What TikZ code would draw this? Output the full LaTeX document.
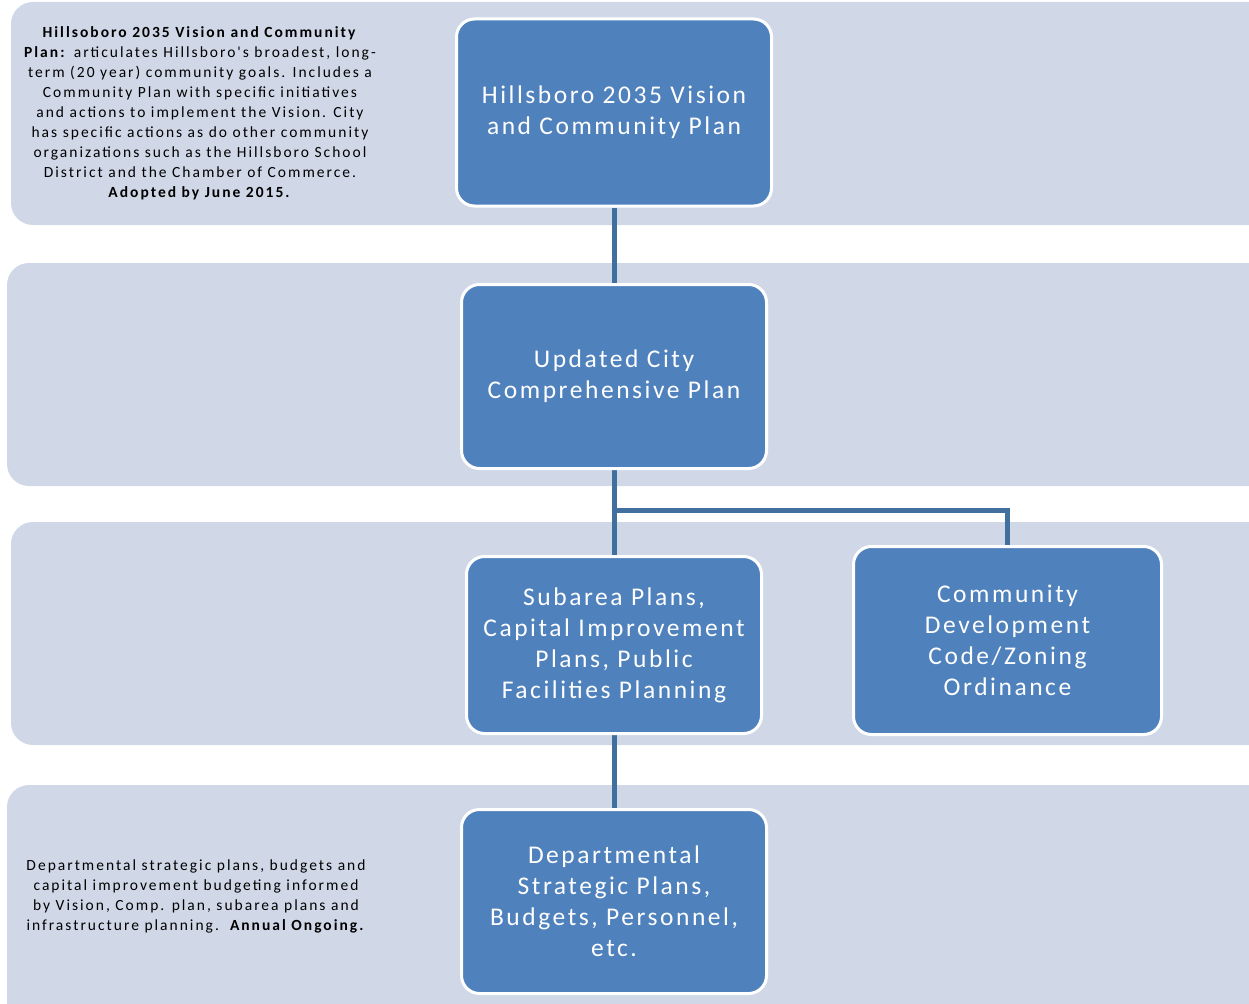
\documentclass[tikz,border=0pt]{standalone}
\usepackage{fontspec}
\usetikzlibrary{backgrounds}
\setmainfont{Carlito}
\newfontfamily\boxfont[LetterSpace=10]{Carlito}
\newfontfamily\notefont[LetterSpace=13]{Carlito}
\definecolor{bandc}{HTML}{D0D8E8}
\definecolor{boxc}{HTML}{4F81BD}
\definecolor{linec}{HTML}{41709F}
\begin{document}
\begin{tikzpicture}[x=1pt,y=-1pt,
  bluebox/.style={fill=boxc,draw=white,line width=3pt,rounded corners=18pt,
    text=white,align=center,inner sep=0pt,
    font=\boxfont\fontsize{25.5}{31}\selectfont},
  note/.style={align=center,text=black,inner sep=0pt,font=\notefont\fontsize{15.5}{20}\selectfont},
  conn/.style={draw=linec,line width=5pt}]
\useasboundingbox (0,0) rectangle (1249,1003);
\node[bluebox,minimum width=315pt,minimum height=187pt] (b1) at (614,112.5) {Hillsboro 2035 Vision\\and Community Plan};
\node[bluebox,minimum width=305pt,minimum height=184pt] (b2) at (614,376.5) {Updated City\\Comprehensive Plan};
\node[bluebox,minimum width=295pt,minimum height=177pt] (b3) at (614,645) {Subarea Plans,\\Capital Improvement\\Plans, Public\\Facilities Planning};
\node[bluebox,minimum width=308pt,minimum height=188pt] (b4) at (1007.5,640.5) {Community\\Development\\Code/Zoning\\Ordinance};
\node[bluebox,minimum width=305pt,minimum height=184pt] (b5) at (614,901.5) {Departmental\\Strategic Plans,\\Budgets, Personnel,\\etc.};
\coordinate (j) at (614,510);
\begin{scope}[on background layer]
\begin{scope}
\clip (0,0) rectangle (1249,1003);
\fill[bandc,rounded corners=22pt] (11,2) rectangle (1275,225);
\fill[bandc,rounded corners=22pt] (7,263) rectangle (1275,486);
\fill[bandc,rounded corners=22pt] (11,522) rectangle (1275,745);
\fill[bandc,rounded corners=22pt] (7,785) rectangle (1275,1030);
\end{scope}
\draw[conn] (b1.south) -- (b2.north);
\draw[conn] (b2.south) -- (j) -| (b4.north);
\draw[conn] (j) -- (b3.north);
\draw[conn] (b3.south) -- (b5.north);
\end{scope}
\node[note] (t1) at (200,113) {\textbf{Hillsoboro 2035 Vision and Community}\\\textbf{Plan:} articulates Hillsboro's broadest, long-\\term (20 year) community goals. Includes a\\Community Plan with specific initiatives\\and actions to implement the Vision. City\\has specific actions as do other community\\organizations such as the Hillsboro School\\District and the Chamber of Commerce.\\\textbf{Adopted by June 2015.}};
\node[note] (t2) at (196,896) {Departmental strategic plans, budgets and\\capital improvement budgeting informed\\by Vision, Comp. plan, subarea plans and\\infrastructure planning.\ \ \textbf{Annual Ongoing.}};
\end{tikzpicture}
\end{document}
